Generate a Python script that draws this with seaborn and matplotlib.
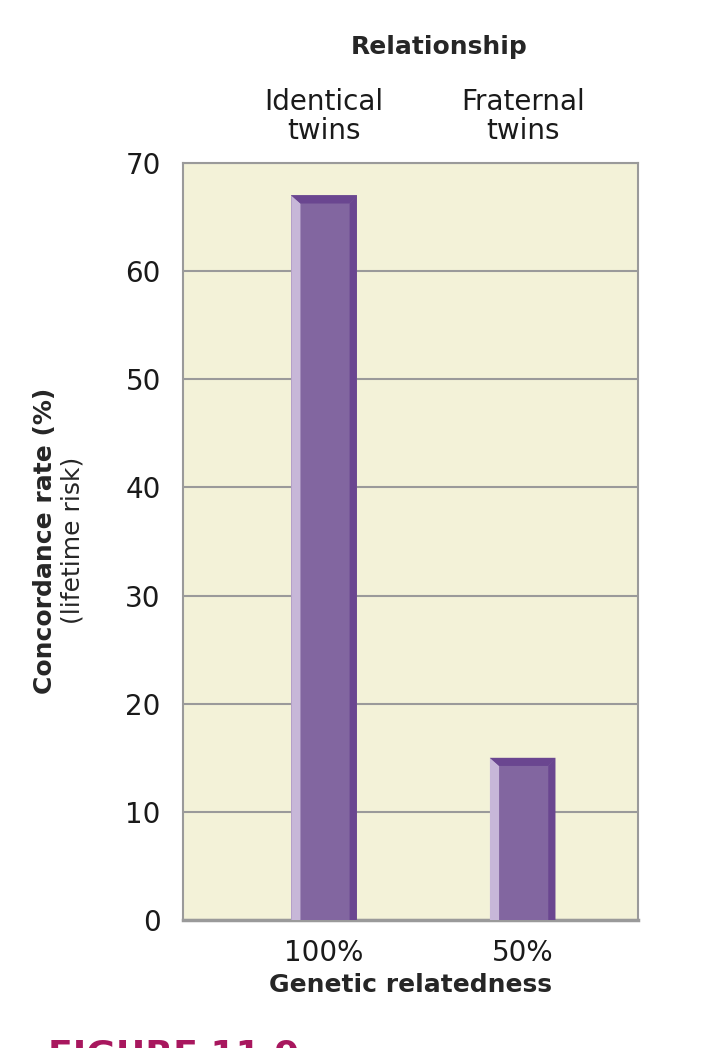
import numpy as np
import pandas as pd
import seaborn as sns
import matplotlib.pyplot as plt
from matplotlib.patches import Polygon

# data
relatedness = ["100%", "50%"]
relationship = ["Identical\ntwins", "Fraternal\ntwins"]
concordance = [67, 15]

sns.set_theme(style="white")
plt.rcParams["font.family"] = ["DejaVu Sans"]

bg = "#F3F2D8"
grid_c = "#9A9A9A"
face = "#8266A0"
light = "#C7B7D8"
dark = "#6A4690"

df = pd.DataFrame({"rel": relatedness, "rate": concordance})

fig = plt.figure(figsize=(7.02, 10.48), dpi=100)
ax = fig.add_axes([0.2607, 0.1221, 0.648, 0.7224])
ax.set_facecolor(bg)

width = 0.33
sns.barplot(data=df, x="rel", y="rate", color=face, width=width,
            saturation=1, ax=ax, zorder=3)

# bevel: light left strip, dark right strip and dark top cap
cap = 0.75
for p in ax.patches:
    x0, v = p.get_x(), p.get_height()
    x1 = x0 + p.get_width()
    l, r = 0.14 * p.get_width(), 0.11 * p.get_width()
    p.set_edgecolor("none")
    ax.add_patch(Polygon([(x0, 0), (x0 + l, 0), (x0 + l, v - cap), (x0, v)],
                         closed=True, fc=light, ec="none", zorder=4))
    ax.add_patch(Polygon([(x1 - r, 0), (x1, 0), (x1, v), (x1 - r, v - cap)],
                         closed=True, fc=dark, ec="none", zorder=4))
    ax.add_patch(Polygon([(x0, v), (x1, v), (x1 - r, v - cap), (x0 + l, v - cap)],
                         closed=True, fc=dark, ec="none", zorder=4))

ax.set_xlim(-0.71, 1.58)
ax.set_ylim(0, 70)
ax.set_yticks(np.arange(0, 71, 10))
ax.yaxis.grid(True, color=grid_c, lw=1.5, zorder=1)
ax.set_axisbelow(True)
for s in ax.spines.values():
    s.set_color(grid_c)
    s.set_linewidth(1.5)
ax.spines["bottom"].set_linewidth(2.5)
ax.tick_params(axis="both", length=0, labelsize=20, colors="#1a1a1a")
ax.tick_params(axis="x", pad=14)
ax.tick_params(axis="y", pad=16)
ax.set_xlabel("Genetic relatedness", fontsize=18, fontweight="bold", labelpad=4)
ax.set_ylabel("")

top = ax.twiny()
top.set_xlim(ax.get_xlim())
top.set_xticks(range(len(relationship)))
top.set_xticklabels(relationship, linespacing=1.05)
top.tick_params(axis="x", length=0, labelsize=20, pad=13, colors="#1a1a1a")
for s in top.spines.values():
    s.set_visible(False)

fig.text(0.625, 0.955, "Relationship", ha="center", va="center",
         fontsize=18, fontweight="bold")
fig.text(0.064, 0.484, "Concordance rate (%)", rotation=90, ha="center",
         va="center", fontsize=18, fontweight="bold")
fig.text(0.103, 0.484, "(lifetime risk)", rotation=90, ha="center",
         va="center", fontsize=18)
fig.text(0.068, 1 - 1039 / 1048, "FIGURE 11.9", ha="left", va="top",
         fontsize=26, fontweight="bold", color="#A8175E")

fig.savefig("out.png", dpi=100, facecolor="white")
